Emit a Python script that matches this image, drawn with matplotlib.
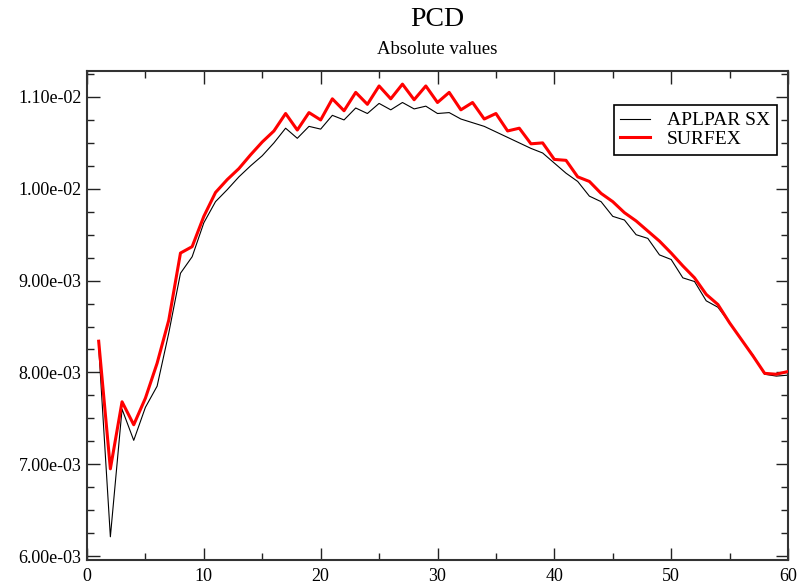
import numpy as np
import matplotlib
matplotlib.use("Agg")
import matplotlib.pyplot as plt
from matplotlib.ticker import MultipleLocator, FuncFormatter

plt.rcParams['font.family'] = ['Liberation Serif', 'DejaVu Serif']

# --- data (values in 1e-3) ---
steps = np.arange(1, 61)
aplpar = [8.28, 6.21, 7.60, 7.26, 7.62, 7.85, 8.43, 9.08, 9.26, 9.63,
          9.86, 9.99, 10.13, 10.25, 10.36, 10.50, 10.66, 10.55, 10.68, 10.65,
          10.80, 10.75, 10.88, 10.82, 10.93, 10.86, 10.94, 10.87, 10.90, 10.82,
          10.83, 10.76, 10.72, 10.68, 10.62, 10.56, 10.50, 10.44, 10.39, 10.28,
          10.17, 10.08, 9.92, 9.86, 9.70, 9.66, 9.50, 9.46, 9.28, 9.23,
          9.03, 8.99, 8.78, 8.71, 8.54, 8.36, 8.19, 7.98, 7.96, 7.97]
surfex = [8.34, 6.95, 7.68, 7.43, 7.72, 8.10, 8.57, 9.30, 9.37, 9.70,
          9.96, 10.10, 10.22, 10.37, 10.51, 10.63, 10.82, 10.64, 10.83, 10.75,
          10.98, 10.85, 11.05, 10.92, 11.12, 10.98, 11.14, 10.97, 11.12, 10.94,
          11.05, 10.86, 10.94, 10.76, 10.82, 10.63, 10.66, 10.49, 10.50, 10.32,
          10.31, 10.13, 10.08, 9.95, 9.86, 9.74, 9.65, 9.54, 9.43, 9.30,
          9.16, 9.03, 8.85, 8.74, 8.54, 8.36, 8.18, 7.99, 7.98, 8.01]
aplpar = np.array(aplpar) * 1e-3
surfex = np.array(surfex) * 1e-3

fig = plt.figure(figsize=(8, 5.87), dpi=100)
ax = fig.add_axes([87 / 800, 1 - 560 / 587, 701 / 800, 489 / 587])

ax.plot(steps, aplpar, color='black', lw=0.8, label='APLPAR SX', zorder=2)
ax.plot(steps, surfex, color='red', lw=2.2, label='SURFEX', zorder=3)

ax.set_xlim(0, 60)
ax.set_ylim(5.957e-3, 1.1283e-2)

ax.xaxis.set_major_locator(MultipleLocator(10))
ax.xaxis.set_minor_locator(MultipleLocator(5))
ax.yaxis.set_major_locator(MultipleLocator(1e-3))
ax.yaxis.set_minor_locator(MultipleLocator(2.5e-4))
ax.yaxis.set_major_formatter(FuncFormatter(lambda v, p: f"{v:.2e}"))

ax.tick_params(which='both', direction='in', top=True, right=True,
               color='#222222', width=1.0, labelsize=13)
ax.tick_params(which='major', length=9)
ax.tick_params(which='minor', length=5)
ax.tick_params(axis='x', which='major', pad=6)
ax.tick_params(axis='y', which='major', pad=4)
for s in ax.spines.values():
    s.set_linewidth(1.5)
    s.set_color('#333333')

fig.text(437 / 800, 1 - 19 / 587, 'PCD', ha='center', va='center', fontsize=20)
fig.text(437 / 800, 1 - 50 / 587, 'Absolute values', ha='center', va='center', fontsize=13.5)

leg = ax.legend(loc='upper right', bbox_to_anchor=(777 / 800, 1 - 105 / 587),
                bbox_transform=fig.transFigure, fancybox=False, framealpha=1,
                edgecolor='black', fontsize=14, handlelength=1.5,
                handletextpad=0.9, labelspacing=0.05, borderpad=0.35,
                borderaxespad=0)
leg.get_frame().set_linewidth(1.2)

fig.savefig('out.png', dpi=100)
